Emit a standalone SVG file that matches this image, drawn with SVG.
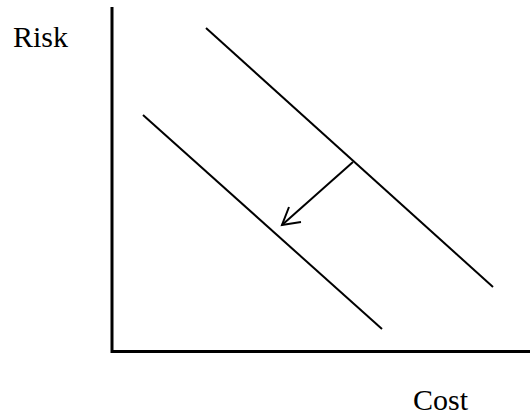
<svg xmlns="http://www.w3.org/2000/svg" width="530" height="417" viewBox="0 0 530 417">
<style>
.ax{stroke:#000;stroke-width:3;fill:none}
.ln{stroke:#000;stroke-width:2;fill:none}
.t{font-family:"Liberation Serif","Times New Roman",serif;font-size:30px;fill:#000}
</style>
<rect width="530" height="417" fill="#fff"/>
<g id="axes">
<path class="ax" d="M112,7 V351.5 H530"/>
</g>
<g id="labels">
<text class="t" x="13" y="47">Risk</text>
<text class="t" x="413" y="410">Cost</text>
</g>
<g id="connectors">
<line class="ln" x1="206" y1="28" x2="493" y2="287"/>
<line class="ln" x1="143" y1="115" x2="382" y2="329"/>
<line class="ln" x1="353" y1="162" x2="282" y2="225"/>
<path class="ln" d="M289,207 L282,225 L301,222"/>
</g>
</svg>
